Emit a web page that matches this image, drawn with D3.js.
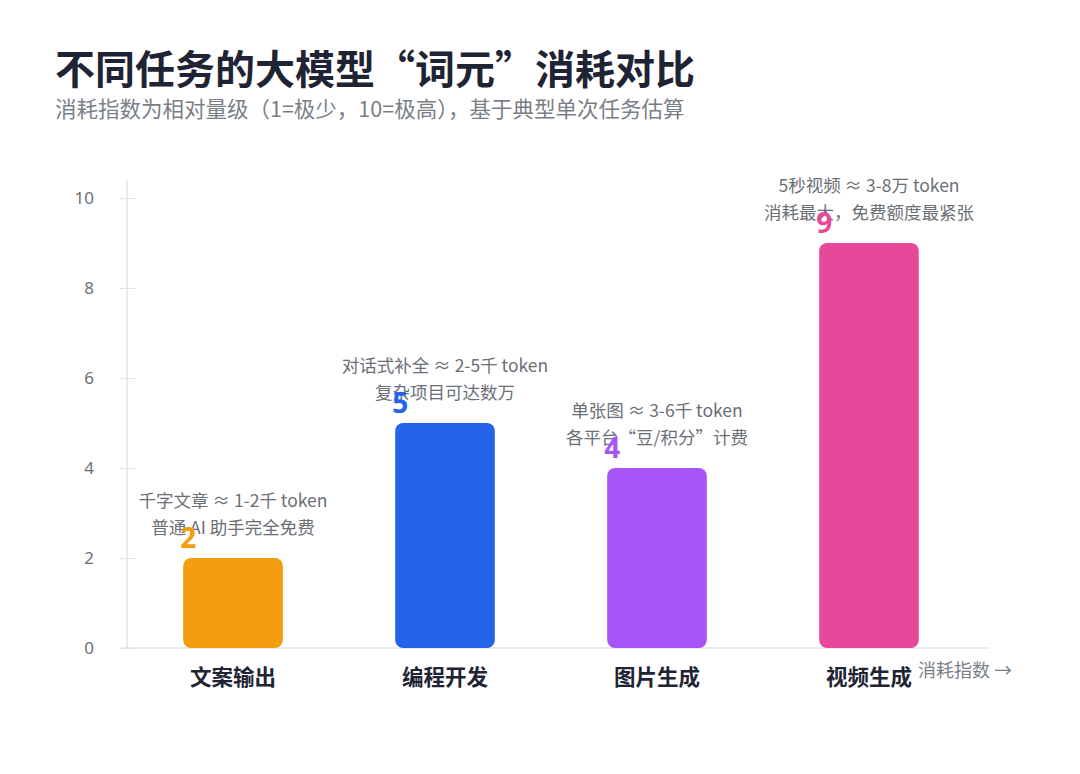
<!DOCTYPE html>
<html>
<head>
<meta charset="utf-8">
<script src="https://cdn.jsdelivr.net/npm/d3@7"></script>
<style>
  body { margin: 0; background: #fff; font-family: "Noto Sans CJK SC", "Noto Sans", sans-serif; }
</style>
</head>
<body>
<script>
// data
var categories = ["文案输出", "编程开发", "图片生成", "视频生成"];
var values = [2, 5, 4, 9];
var colors = ["#F29E0E", "#2563EB", "#A855F7", "#E8489A"];
var notesLine1 = ["千字文章 ≈ 1-2千 token", "对话式补全 ≈ 2-5千 token", "单张图 ≈ 3-6千 token", "5秒视频 ≈ 3-8万 token"];
var notesLine2 = ["普通 AI 助手完全免费", "复杂项目可达数万", "各平台“豆/积分”计费", "消耗最大，免费额度最紧张"];
var yTicks = [0, 2, 4, 6, 8, 10];

var width = 1080, height = 774;

var svg = d3.select("body").append("svg")
  .attr("width", width)
  .attr("height", height);

svg.append("text")
  .attr("x", 55).attr("y", 84)
  .style("font-size", "40px").style("font-weight", 700)
  .style("fill", "#1E2433")
  .text("不同任务的大模型“词元”消耗对比");

svg.append("text")
  .attr("x", 55).attr("y", 117)
  .style("font-size", "21.5px")
  .style("fill", "#7A7F87")
  .text("消耗指数为相对量级（1=极少，10=极高），基于典型单次任务估算");

var x = d3.scaleBand()
  .domain(categories)
  .range([127, 975])
  .paddingInner(0.53)
  .paddingOuter(0.265);

var y = d3.scaleLinear()
  .domain([0, 10])
  .range([648, 198]);

// y axis
var yAxis = svg.append("g")
  .attr("transform", "translate(127,0)")
  .call(d3.axisLeft(y).tickValues(yTicks).tickSize(7).tickPadding(26));
yAxis.select(".domain").remove();
yAxis.selectAll(".tick line").attr("x2", 8).attr("x1", -7).style("stroke", "#E3E5E8");
yAxis.selectAll(".tick text")
  .style("font-size", "17px").style("fill", "#6B6F76")
  .style("font-family", "'Noto Sans', sans-serif");
svg.append("line")
  .attr("x1", 127).attr("x2", 127).attr("y1", 180).attr("y2", 648)
  .style("stroke", "#E3E5E8").style("stroke-width", 1.5);

// x axis
svg.append("line")
  .attr("x1", 120).attr("x2", 990).attr("y1", 648).attr("y2", 648)
  .style("stroke", "#E3E5E8").style("stroke-width", 1.5);

var idx = d3.range(categories.length);

svg.selectAll("rect.bar")
  .data(idx)
  .enter().append("rect")
  .attr("class", "bar")
  .attr("x", function (i) { return x(categories[i]); })
  .attr("y", function (i) { return y(values[i]); })
  .attr("width", x.bandwidth())
  .attr("height", function (i) { return y(0) - y(values[i]); })
  .attr("rx", 8).attr("ry", 8)
  .style("fill", function (i) { return colors[i]; });

// notes
svg.selectAll("text.note1")
  .data(idx)
  .enter().append("text")
  .attr("class", "note1")
  .attr("x", function (i) { return x(categories[i]) + x.bandwidth() / 2; })
  .attr("y", function (i) { return y(values[i]) - 51; })
  .attr("text-anchor", "middle")
  .style("font-size", "17.5px").style("fill", "#6B6F76")
  .text(function (i) { return notesLine1[i]; });

svg.selectAll("text.note2")
  .data(idx)
  .enter().append("text")
  .attr("class", "note2")
  .attr("x", function (i) { return x(categories[i]) + x.bandwidth() / 2; })
  .attr("y", function (i) { return y(values[i]) - 24; })
  .attr("text-anchor", "middle")
  .style("font-size", "17.5px").style("fill", "#6B6F76")
  .text(function (i) { return notesLine2[i]; });

// value labels
svg.selectAll("text.val")
  .data(idx)
  .enter().append("text")
  .attr("class", "val")
  .attr("x", function (i) { return x(categories[i]) + 5; })
  .attr("y", function (i) { return y(values[i]) - 10; })
  .attr("text-anchor", "middle")
  .style("font-size", "28px").style("font-weight", 700)
  .style("font-family", "'Noto Sans', sans-serif")
  .style("fill", function (i) { return colors[i]; })
  .text(function (i) { return values[i]; });

// category labels
svg.selectAll("text.cat")
  .data(idx)
  .enter().append("text")
  .attr("class", "cat")
  .attr("x", function (i) { return x(categories[i]) + x.bandwidth() / 2; })
  .attr("y", 685)
  .attr("text-anchor", "middle")
  .style("font-size", "21.5px").style("font-weight", 700)
  .style("fill", "#1E2433")
  .text(function (i) { return categories[i]; });

svg.append("text")
  .attr("x", 918).attr("y", 677)
  .style("font-size", "18px").style("fill", "#7A7F87")
  .text("消耗指数 →");
</script>
</body>
</html>
